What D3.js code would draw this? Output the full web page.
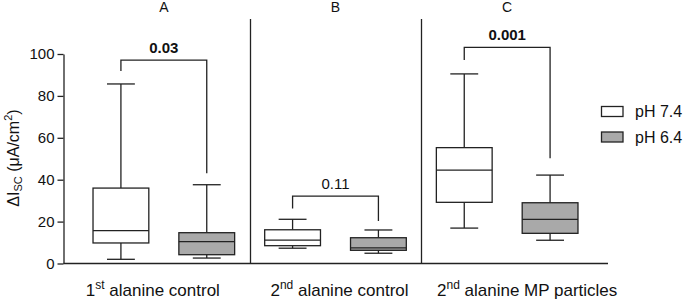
<!DOCTYPE html>
<html><head><meta charset="utf-8">
<script src="https://cdn.jsdelivr.net/npm/d3@7"></script>
<style>body{margin:0;background:#fff}svg{display:block;font-family:"Liberation Sans",Arial,sans-serif}</style>
</head><body><svg id="c" width="685" height="300"></svg>
<script>
// ---- data ----
const panels = ["A", "B", "C"];
const categories = ["1st alanine control", "2nd alanine control", "2nd alanine MP particles"];
const catMain = ["1", "2", "2"];
const catSup = ["st", "nd", "nd"];
const catRest = [" alanine control", " alanine control", " alanine MP particles"];
const series = ["pH 7.4", "pH 6.4"];
// five-number summaries [min, q1, median, q3, max]
const ph74 = [[2.0, 9.8, 15.7, 36.0, 85.7], [7.3, 8.5, 11.2, 16.1, 21.1], [16.9, 29.2, 44.6, 55.3, 90.5]];
const ph64 = [[2.6, 4.2, 10.4, 14.7, 37.6], [4.9, 6.3, 7.5, 12.3, 16.0], [11.1, 14.4, 21.1, 29.0, 42.2]];
const pValues = ["0.03", "0.11", "0.001"];
const pBold = [true, false, true];
const bracketTop = [97.1, 32.2, 103.2];
const bracketLeftEnd = [91.9, 26.3, 97.1];
const bracketRightEnd = [43.1, 20.3, 50.2];
const yTicks = [0, 20, 40, 60, 80, 100];

// ---- layout ----
const svg = d3.select("#c");
const ink = "#222";
const fills = ["#ffffff", "#a9a9a9"];
const y = d3.scaleLinear().domain([0, 100]).range([263.5, 54]);
const axisLeftX = 63.5, axisRightX = 608;
const x0 = d3.scaleBand().domain(categories).range([78, 593]).padding(0);
const x1 = d3.scaleBand().domain(series).range([0, x0.bandwidth()]).paddingInner(0.35).paddingOuter(0.175);
const labelShift = [-11, 4, 20];

// y axis
const ya = svg.append("g").attr("transform", `translate(${axisLeftX},0)`)
  .call(d3.axisLeft(y).tickValues(yTicks).tickSize(6).tickSizeOuter(0).tickPadding(3));
ya.select(".domain").attr("stroke", ink).attr("stroke-width", 1.3);
ya.selectAll(".tick line").attr("stroke", ink).attr("stroke-width", 1.3);
ya.selectAll(".tick text").attr("font-size", 15).attr("fill", "#111").attr("font-family", "Liberation Sans, Arial, sans-serif");

// x axis baseline
svg.append("line").attr("x1", axisLeftX).attr("x2", axisRightX).attr("y1", y(0)).attr("y2", y(0))
  .attr("stroke", ink).attr("stroke-width", 1.3);

// separators
categories.slice(1).forEach(c => {
  const xs = Math.round(x0(c)) + 0.5;
  svg.append("line").attr("x1", xs).attr("x2", xs).attr("y1", 19).attr("y2", y(0))
    .attr("stroke", ink).attr("stroke-width", 1.3);
});

// panel titles
categories.forEach((c, i) => {
  svg.append("text").attr("x", x0(c) + x0.bandwidth() / 2).attr("y", 12)
    .attr("text-anchor", "middle").attr("font-size", 14).attr("fill", "#111").text(panels[i]);
});

// boxes
const data = [ph74, ph64];
series.forEach((s, si) => {
  categories.forEach((c, ci) => {
    const v = data[si][ci];
    const bx = x0(c) + x1(s), bw = x1.bandwidth(), cx = bx + bw / 2;
    const g = svg.append("g").attr("stroke", ink).attr("stroke-width", 1.3);
    g.append("line").attr("x1", cx).attr("x2", cx).attr("y1", y(v[0])).attr("y2", y(v[1]));
    g.append("line").attr("x1", cx).attr("x2", cx).attr("y1", y(v[3])).attr("y2", y(v[4]));
    g.append("line").attr("x1", cx - bw / 4).attr("x2", cx + bw / 4).attr("y1", y(v[0])).attr("y2", y(v[0]));
    g.append("line").attr("x1", cx - bw / 4).attr("x2", cx + bw / 4).attr("y1", y(v[4])).attr("y2", y(v[4]));
    g.append("rect").attr("x", bx).attr("width", bw).attr("y", y(v[3])).attr("height", y(v[1]) - y(v[3]))
      .attr("fill", fills[si]);
    g.append("line").attr("x1", bx).attr("x2", bx + bw).attr("y1", y(v[2])).attr("y2", y(v[2]));
  });
});

// significance brackets
categories.forEach((c, ci) => {
  const xa = x0(c) + x1(series[0]) + x1.bandwidth() / 2;
  const xb = x0(c) + x1(series[1]) + x1.bandwidth() / 2;
  svg.append("path")
    .attr("d", `M${xa},${y(bracketLeftEnd[ci])}V${y(bracketTop[ci])}H${xb}V${y(bracketRightEnd[ci])}`)
    .attr("fill", "none").attr("stroke", ink).attr("stroke-width", 1.3);
  svg.append("text").attr("x", (xa + xb) / 2).attr("y", y(bracketTop[ci]) - 7)
    .attr("text-anchor", "middle").attr("font-size", 15)
    .attr("font-weight", pBold[ci] ? "bold" : "normal").attr("fill", "#111").text(pValues[ci]);
});

// category labels
categories.forEach((c, ci) => {
  const t = svg.append("text").attr("x", x0(c) + x0.bandwidth() / 2 + labelShift[ci]).attr("y", 295.5)
    .attr("text-anchor", "middle").attr("font-size", 17).attr("fill", "#111");
  t.append("tspan").text(catMain[ci]);
  t.append("tspan").attr("font-size", 12).attr("dy", -7).text(catSup[ci]);
  t.append("tspan").attr("dy", 7).text(catRest[ci]);
});

// y label
const yl = svg.append("text").attr("transform", "translate(19,158) rotate(-90)")
  .attr("text-anchor", "middle").attr("font-size", 16).attr("fill", "#111");
yl.append("tspan").text("ΔI");
yl.append("tspan").attr("font-size", 11).attr("dy", 3).text("SC");
yl.append("tspan").attr("dy", -3).text(" (μA/cm");
yl.append("tspan").attr("font-size", 11).attr("dy", -7).text("2");
yl.append("tspan").attr("dy", 7).text(")");

// legend
series.forEach((s, si) => {
  const ly = 106.5 + si * 25.5;
  svg.append("rect").attr("x", 601.5).attr("y", ly).attr("width", 21.5).attr("height", 10)
    .attr("fill", fills[si]).attr("stroke", ink).attr("stroke-width", 1.3);
  svg.append("text").attr("x", 635).attr("y", ly + 5).attr("dy", "0.35em")
    .attr("font-size", 16).attr("fill", "#111").text(s);
});
</script></body></html>
